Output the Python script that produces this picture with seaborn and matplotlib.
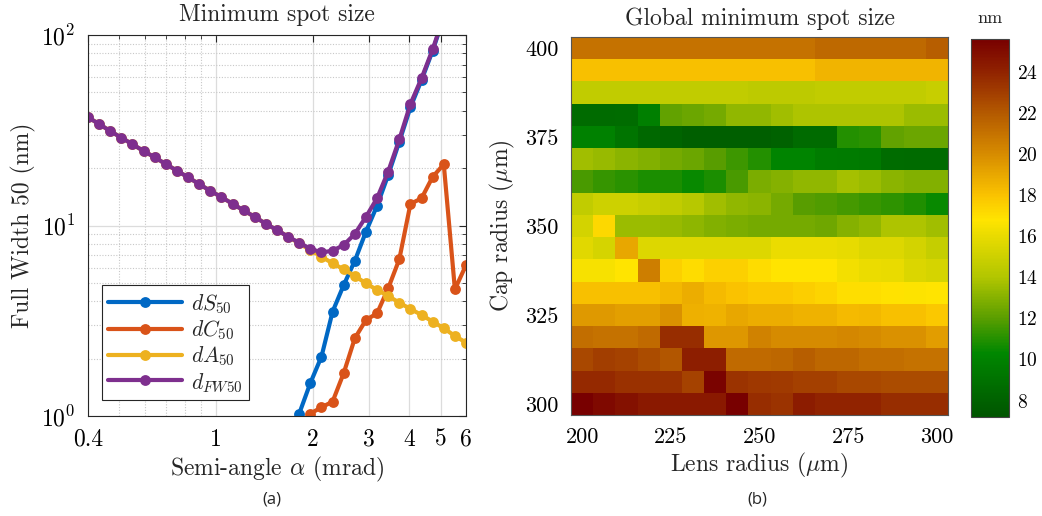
import numpy as np
import pandas as pd
import matplotlib
matplotlib.use("Agg")
import matplotlib.pyplot as plt
import matplotlib.ticker as mticker
from matplotlib.colors import LinearSegmentedColormap
import seaborn as sns

# ---------------- data: left panel ----------------
alpha = [0.400, 0.4332, 0.4691, 0.5080, 0.5501, 0.5957, 0.6451, 0.6986, 0.7565,
         0.8192, 0.8871, 0.9607, 1.0403, 1.1266, 1.2200, 1.3211, 1.4307, 1.5493,
         1.6777, 1.8168, 1.9674, 2.1306, 2.3072, 2.4985, 2.7057, 2.9300, 3.1729,
         3.4360, 3.7209, 4.0294, 4.3635, 4.7253, 5.1170, 5.5413, 6.0000]
nan = np.nan
dS50 = [nan] * 19 + [1.03, 1.49, 2.05, 3.53, 4.87, 6.53, 9.28, 12.7, 18.4, 27.5,
                     41.7, 58.0, 82.7, 124.0, nan, nan]
dC50 = [nan] * 20 + [1.03, 1.11, 1.19, 1.68, 2.56, 3.19, 3.46, 4.68, 6.65,
                     12.97, 13.9, 18.0, 20.95, 4.62, 6.2]
dA50 = [36.98, 34.1, 31.3, 28.9, 26.7, 24.6, 22.8, 21.0, 19.4, 17.9, 16.5, 15.2,
        14.1, 13.0, 12.0, 11.1, 10.2, 9.47, 8.73, 8.05, 7.42, 6.86, 6.33, 5.89,
        5.43, 4.97, 4.59, 4.27, 3.93, 3.65, 3.39, 3.13, 2.89, 2.63, 2.43]
dFW50 = [36.98, 34.1, 31.3, 28.9, 26.7, 24.6, 22.8, 21.0, 19.4, 17.9, 16.5, 15.2,
         14.1, 13.0, 12.0, 11.1, 10.2, 9.47, 8.73, 8.12, 7.55, 7.22, 7.37, 7.9,
         9.03, 11.1, 13.9, 19.2, 28.3, 43.4, 59.3, 84.1, 125.0, nan, nan]
series_names = ["$dS_{50}$", "$dC_{50}$", "$dA_{50}$", "$d_{FW50}$"]
series_colors = ["#0068C4", "#D95319", "#EDB120", "#7E2F8E"]
x_ticks = [0.4, 1, 2, 3, 4, 5, 6]
x_ticklabels = ["0.4", "1", "2", "3", "4", "5", "6"]

# ---------------- data: right panel ----------------
lens_radius = [200 + 6.25 * i for i in range(17)]
cap_radius = [400 - 6.25 * i for i in range(17)]   # top row first
spot = [
    [21.0, 21.0, 21.0, 21.0, 21.0, 21.0, 21.0, 21.0, 21.0, 21.0, 21.0, 21.4, 21.4, 21.4, 21.4, 21.4, 21.8],
    [18.1, 18.1, 18.1, 18.1, 18.1, 18.1, 18.1, 18.1, 18.1, 18.1, 18.1, 18.5, 18.5, 18.5, 18.5, 18.5, 18.5],
    [14.6, 14.6, 14.6, 14.6, 14.6, 14.6, 14.6, 14.6, 14.4, 14.4, 14.4, 14.6, 14.6, 14.6, 14.6, 14.6, 14.8],
    [8.6, 8.6, 8.7, 9.8, 12.2, 12.4, 12.6, 13.3, 13.3, 13.6, 13.9, 13.9, 13.9, 13.9, 13.9, 13.5, 13.5],
    [10.0, 10.0, 9.2, 8.4, 8.2, 7.9, 7.9, 7.9, 7.9, 8.0, 8.6, 8.6, 11.0, 11.1, 12.2, 12.4, 12.4],
    [13.6, 13.4, 13.1, 12.9, 12.6, 12.4, 12.0, 11.5, 11.0, 10.1, 10.1, 9.7, 9.6, 9.5, 8.7, 8.6, 8.6],
    [11.7, 11.3, 11.1, 10.8, 10.8, 10.5, 10.8, 11.7, 12.8, 13.0, 13.3, 13.3, 13.7, 13.5, 13.1, 12.9, 12.9],
    [14.6, 15.0, 15.0, 14.8, 14.6, 14.2, 13.6, 13.3, 13.1, 12.6, 12.0, 11.8, 11.6, 11.4, 11.2, 10.9, 10.5],
    [15.2, 17.2, 13.5, 13.5, 13.4, 13.2, 12.9, 12.8, 12.6, 12.6, 12.6, 12.5, 13.0, 13.3, 13.9, 13.9, 13.6],
    [15.7, 15.3, 19.0, 15.6, 15.6, 15.6, 15.6, 15.6, 15.6, 16.1, 16.1, 16.1, 15.9, 15.6, 15.6, 15.2, 14.7],
    [16.5, 16.5, 16.8, 20.5, 17.5, 17.1, 17.5, 17.5, 17.1, 16.8, 16.8, 16.8, 16.4, 16.1, 16.0, 15.5, 15.3],
    [18.1, 18.1, 18.1, 18.1, 18.4, 18.8, 18.3, 18.0, 17.8, 17.8, 17.6, 17.4, 17.0, 17.0, 16.9, 16.7, 16.8],
    [19.5, 19.5, 19.3, 19.3, 19.8, 18.7, 18.6, 19.0, 18.8, 18.8, 18.6, 18.6, 18.3, 18.4, 18.1, 18.1, 17.8],
    [21.2, 21.0, 21.0, 21.3, 23.6, 23.6, 19.6, 19.6, 20.4, 20.0, 20.0, 20.0, 20.2, 20.0, 19.8, 19.8, 19.4],
    [22.6, 23.0, 22.8, 22.5, 22.1, 24.2, 24.2, 21.3, 21.3, 21.5, 21.8, 21.5, 21.5, 21.2, 21.2, 21.0, 21.0],
    [23.8, 23.8, 23.5, 23.5, 23.5, 22.8, 25.4, 23.4, 23.2, 23.1, 22.9, 22.9, 22.6, 22.6, 22.5, 22.5, 22.5],
    [25.6, 25.1, 24.8, 24.4, 24.4, 24.4, 24.4, 25.6, 23.6, 23.4, 24.3, 24.0, 24.0, 24.0, 23.6, 23.6, 23.6],
]
lens_ticks = [200, 225, 250, 275, 300]
cap_ticks = [400, 375, 350, 325, 300]
cbar_ticks = [8, 10, 12, 14, 16, 18, 20, 22, 24]
vmin, vmax = 7.2, 25.6

# colormap nodes (value, colour)
cmap_vals = [7.2, 9.5, 10.3, 12.0, 14.0, 16.8, 18.0, 20.0, 22.0, 24.0, 25.6]
cmap_cols = [(0, 85, 0), (0, 122, 0), (0, 135, 0), (90, 158, 0), (178, 198, 0),
             (255, 228, 0), (250, 195, 0), (215, 140, 0), (180, 90, 0),
             (145, 35, 0), (120, 0, 0)]

# ---------------- style ----------------
sns.set_theme(style="white")
plt.rcParams["font.family"] = ["cmr10", "DejaVu Serif"]
plt.rcParams["mathtext.fontset"] = "cm"
plt.rcParams["axes.formatter.use_mathtext"] = True
plt.rcParams["axes.unicode_minus"] = False

W, H = 1042, 516
fig = plt.figure(figsize=(W / 100, H / 100), dpi=100)

def fr(x0, y0, x1, y1):
    return [x0 / W, 1 - y1 / H, (x1 - x0) / W, (y1 - y0) / H]

edge = "#262626"

# ---------------- left panel ----------------
ax1 = fig.add_axes(fr(88, 35, 466, 416))
long_rows = []
for name, vals in zip(series_names, [dS50, dC50, dA50, dFW50]):
    for a, v in zip(alpha, vals):
        long_rows.append({"alpha": a, "value": v, "series": name})
df = pd.DataFrame(long_rows)
for name, col in zip(series_names, series_colors):
    sub = df[(df["series"] == name) & df["value"].notna()]
    sns.lineplot(data=sub, x="alpha", y="value", ax=ax1, color=col, marker="o",
                 markersize=7.8, markeredgewidth=0, linewidth=3.0, label=name,
                 estimator=None, errorbar=None, sort=True)
ax1.set_xscale("log")
ax1.set_yscale("log")
ax1.set_xlim(0.4, 6)
ax1.set_ylim(1, 100)
ax1.xaxis.set_major_locator(mticker.FixedLocator(x_ticks))
ax1.xaxis.set_major_formatter(mticker.FixedFormatter(x_ticklabels))
ax1.xaxis.set_minor_locator(mticker.LogLocator(base=10, subs=np.arange(2, 10)))
ax1.xaxis.set_minor_formatter(mticker.NullFormatter())
ax1.yaxis.set_major_locator(mticker.LogLocator(base=10, numticks=10))
ax1.yaxis.set_minor_locator(mticker.LogLocator(base=10, subs=np.arange(2, 10), numticks=20))
ax1.yaxis.set_minor_formatter(mticker.NullFormatter())
ax1.grid(which="major", color="#dcdcdc", linewidth=0.9, linestyle="-")
ax1.grid(which="minor", color="#c8c8c8", linewidth=0.8, linestyle=(0, (1, 1.5)))
ax1.set_axisbelow(True)
ax1.tick_params(which="both", direction="in", top=True, right=True, colors=edge,
                labelcolor="black", labelsize=17, pad=9)
ax1.tick_params(which="major", length=5, width=0.8)
ax1.tick_params(which="minor", length=3, width=0.6)
for s in ax1.spines.values():
    s.set_visible(True)
    s.set_color(edge)
    s.set_linewidth(0.8)
ax1.set_title("Minimum spot size", fontsize=17, pad=10)
ax1.set_xlabel(r"Semi-angle $\alpha$ (mrad)", fontsize=17, labelpad=3)
ax1.set_ylabel("Full Width 50 (nm)", fontsize=17, labelpad=4)
leg = ax1.legend(loc="lower left", bbox_to_anchor=(0.037, 0.042), borderaxespad=0,
                 fontsize=15.5, handlelength=3.4, labelspacing=0.12, handletextpad=0.45,
                 borderpad=0.3, fancybox=False, framealpha=1)
leg.get_frame().set_edgecolor(edge)
leg.get_frame().set_linewidth(0.8)

# ---------------- right panel ----------------
ax2 = fig.add_axes(fr(571, 37, 948, 415))
cax = fig.add_axes(fr(971, 39, 1009, 417))
nodes = [((v - vmin) / (vmax - vmin), tuple(c / 255 for c in rgb))
         for v, rgb in zip(cmap_vals, cmap_cols)]
cmap = LinearSegmentedColormap.from_list("spot", nodes, N=256)
hm = pd.DataFrame(spot, index=cap_radius, columns=lens_radius)
sns.heatmap(hm, ax=ax2, cmap=cmap, vmin=vmin, vmax=vmax, cbar_ax=cax,
            xticklabels=False, yticklabels=False)
ax2.set_xticks([lens_radius.index(t) + 0.5 for t in lens_ticks])
ax2.set_xticklabels([str(t) for t in lens_ticks])
ax2.set_yticks([cap_radius.index(t) + 0.5 for t in cap_ticks])
ax2.set_yticklabels([str(t) for t in cap_ticks], rotation=0)
ax2.tick_params(direction="in", top=True, right=True, length=4, width=0.8,
                colors=edge, labelcolor="black", labelsize=16, pad=9,
                bottom=True, left=True)
for s in ax2.spines.values():
    s.set_visible(True)
    s.set_color("#555555")
    s.set_linewidth(0.8)
ax2.set_title("Global minimum spot size", fontsize=17, pad=9)
ax2.set_xlabel(r"Lens radius ($\mu$m)", fontsize=17, labelpad=3)
ax2.set_ylabel(r"Cap radius ($\mu$m)", fontsize=17, labelpad=6)

cbar = ax2.collections[0].colorbar
cbar.set_ticks(cbar_ticks)
cbar.ax.tick_params(direction="in", length=4, width=0.8, colors=edge,
                    labelcolor="black", labelsize=14, right=True, left=False, pad=6)
cbar.outline.set_edgecolor("#444444")
cbar.outline.set_linewidth(0.8)
fig.text(990 / W, 1 - 18 / H, "nm", ha="center", va="center", fontsize=13)

# panel captions
fig.text(272 / W, 1 - 500 / H, "(a)", ha="center", va="center", fontsize=12,
         family=["Open Sans", "DejaVu Sans"])
fig.text(757 / W, 1 - 500 / H, "(b)", ha="center", va="center", fontsize=12,
         family=["Open Sans", "DejaVu Sans"])

fig.savefig("out.png", dpi=100)
